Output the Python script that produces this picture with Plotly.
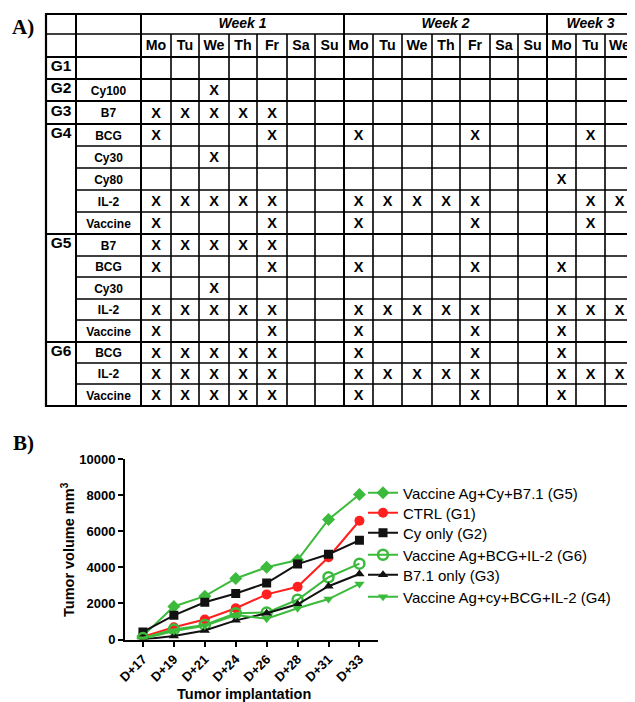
import plotly.graph_objects as go

# ---------------- Panel A data (treatment schedule) ----------------
group_names = ["G1", "G2", "G3", "G4", "G5", "G6"]
group_sizes = [1, 1, 1, 5, 5, 3]
treatments = ["", "Cy100", "B7", "BCG", "Cy30", "Cy80", "IL-2", "Vaccine",
              "B7", "BCG", "Cy30", "IL-2", "Vaccine",
              "BCG", "IL-2", "Vaccine"]
week_names = ["Week 1", "Week 2", "Week 3"]
week_days = [["Mo", "Tu", "We", "Th", "Fr", "Sa", "Su"],
             ["Mo", "Tu", "We", "Th", "Fr", "Sa", "Su"],
             ["Mo", "Tu", "We"]]
# day indices (0..16 across the three weeks) marked with an X, one list per row
schedule = [
    [],
    [2],
    [0, 1, 2, 3, 4],
    [0, 4, 7, 11, 15],
    [2],
    [14],
    [0, 1, 2, 3, 4, 7, 8, 9, 10, 11, 15, 16],
    [0, 4, 7, 11, 15],
    [0, 1, 2, 3, 4],
    [0, 4, 7, 11, 14],
    [2],
    [0, 1, 2, 3, 4, 7, 8, 9, 10, 11, 14, 15, 16],
    [0, 4, 7, 11, 14],
    [0, 1, 2, 3, 4, 7, 11, 14],
    [0, 1, 2, 3, 4, 7, 8, 9, 10, 11, 14, 15, 16],
    [0, 1, 2, 3, 4, 7, 11, 14],
]

# ---------------- Panel B data (tumor volume) ----------------
days = ["D+17", "D+19", "D+21", "D+24", "D+26", "D+28", "D+31", "D+33"]
series_names = ["Vaccine Ag+Cy+B7.1 (G5)", "CTRL (G1)", "Cy only (G2)",
                "Vaccine Ag+BCG+IL-2 (G6)", "B7.1 only (G3)", "Vaccine Ag+cy+BCG+IL-2 (G4)"]
g5_vals = [200, 1830, 2400, 3380, 4000, 4400, 6650, 8030]
ctrl_vals = [150, 680, 1110, 1730, 2500, 2920, 4560, 6580]
cy_vals = [420, 1340, 2060, 2550, 3130, 4180, 4720, 5500]
g6_vals = [80, 560, 810, 1460, 1490, 2200, 3450, 4200]
g3_vals = [0, 200, 500, 1060, 1450, 1950, 2950, 3630]
g4_vals = [40, 470, 760, 1350, 1150, 1730, 2240, 3080]
series_vals = [g5_vals, ctrl_vals, cy_vals, g6_vals, g3_vals, g4_vals]
y_tick_vals = [0, 2000, 4000, 6000, 8000, 10000]
y_tick_text = ["0", "2000", "4000", "6000", "8000", "10000"]

# ---------------- styling / layout constants ----------------
# the page body has an 8px margin, so the figure is sized/offset to fill the 635x702 window
OFF = 8
WIN_W, WIN_H = 635, 702
W, H = WIN_W - OFF, WIN_H - OFF

def px(X):  # window pixel -> paper x
    return (X - OFF) / W
def py(Y):  # window pixel -> paper y
    return 1 - (Y - OFF) / H

GREEN = "#3cba3c"
RED = "#ff1f1f"
BLACK = "#111111"
series_colors = [GREEN, RED, BLACK, GREEN, BLACK, GREEN]
series_symbols = ["diamond", "circle", "square", "circle-open", "triangle-up", "triangle-down"]
series_msize = [10, 10, 9, 10, 9, 9]
legend_y_px = [493, 513, 533, 555, 575, 597]

COL_EDGES = [46, 76, 141, 171, 199, 229, 257, 287, 315, 344, 373, 402, 432,
             460, 490, 518, 547, 576, 605, 634]
ROW_EDGES = [14, 34, 57, 79, 101, 124, 146, 168, 190, 212, 234, 256, 277,
             299, 320, 342, 363, 384, 406]
FONT = "Liberation Sans, Arial, sans-serif"

fig = go.Figure()

# ---------- table grid lines ----------
shapes = []
def hline(y, x0, x1, w):
    shapes.append(dict(type="line", xref="x2", yref="y2", x0=x0, x1=x1, y0=y, y1=y,
                       line=dict(color="black", width=w)))
def vline(x, y0, y1, w):
    shapes.append(dict(type="line", xref="x2", yref="y2", x0=x, x1=x, y0=y0, y1=y1,
                       line=dict(color="black", width=w)))

left, right = COL_EDGES[0], COL_EDGES[-1]
top, bottom = ROW_EDGES[0], ROW_EDGES[-1]
cum = []
s = 0
for g in group_sizes:
    s += g
    cum.append(s)
for k, y in enumerate(ROW_EDGES):
    if k in (0, len(ROW_EDGES) - 1):
        continue
    if k <= 2:
        hline(y, left, right, 1.6 if k == 1 else 2)
    else:
        r = k - 2  # number of data rows above
        if r in cum:
            hline(y, left, right, 2)
        else:
            hline(y, COL_EDGES[1], right, 1.6)
week_starts = {2, 9, 16}
for j, x in enumerate(COL_EDGES):
    if j in (0, len(COL_EDGES) - 1):
        continue
    if j in (1, 2) or j in week_starts:
        vline(x, top, bottom, 2)
    else:
        vline(x, ROW_EDGES[1], bottom, 1.6)
# outer border
shapes.append(dict(type="rect", xref="x2", yref="y2", x0=left, x1=right, y0=top, y1=bottom,
                   line=dict(color="black", width=2.2)))

def ccx(c):
    return (COL_EDGES[c] + COL_EDGES[c + 1]) / 2
def ccy(r):
    return (ROW_EDGES[r] + ROW_EDGES[r + 1]) / 2

def text_trace(x, y, t, size, style="normal"):
    return go.Scatter(x=x, y=y, text=t, mode="text", xaxis="x2", yaxis="y2",
                      textfont=dict(family=FONT, size=size, color="black", weight="bold", style=style),
                      showlegend=False, hoverinfo="skip", cliponaxis=False)

# week header
wx, wy, wt = [], [], []
d0 = 0
for name, dl in zip(week_names, week_days):
    wx.append((COL_EDGES[2 + d0] + COL_EDGES[2 + d0 + len(dl)]) / 2)
    wy.append(ccy(0) + 0.5)
    wt.append(name)
    d0 += len(dl)
fig.add_trace(text_trace(wx, wy, wt, 14, "italic"))
# day header
dx, dy, dt = [], [], []
c = 0
for dl in week_days:
    for d in dl:
        dx.append(ccx(2 + c))
        dy.append(ccy(1) + 0.5)
        dt.append(d)
        c += 1
fig.add_trace(text_trace(dx, dy, dt, 14.2))
# group labels
gx, gy, gt = [], [], []
r0 = 0
for name, size in zip(group_names, group_sizes):
    gx.append(ccx(0))
    gy.append(ccy(2 + r0) - 0.5)
    gt.append(name)
    r0 += size
fig.add_trace(text_trace(gx, gy, gt, 15.5))
# treatment labels
tx, ty, tt = [], [], []
for r, name in enumerate(treatments):
    if name:
        tx.append(ccx(1))
        ty.append(ccy(2 + r) + 1.5)
        tt.append(name)
fig.add_trace(text_trace(tx, ty, tt, 12))
# X marks
xx, xy, xt = [], [], []
for r, dlist in enumerate(schedule):
    for d in dlist:
        xx.append(ccx(2 + d))
        xy.append(ccy(2 + r) + 1.5)
        xt.append("X")
fig.add_trace(text_trace(xx, xy, xt, 14.5))

# ---------- Panel B lines ----------
legend_keys = ["legend", "legend2", "legend3", "legend4", "legend5", "legend6"]
for i, (name, vals) in enumerate(zip(series_names, series_vals)):
    marker = dict(symbol=series_symbols[i], size=series_msize[i], color=series_colors[i])
    if series_symbols[i] == "circle-open":
        marker["line"] = dict(width=2.5, color=series_colors[i])
    fig.add_trace(go.Scatter(x=days, y=vals, name=name, mode="lines+markers",
                             line=dict(color=series_colors[i], width=2),
                             marker=marker, xaxis="x", yaxis="y",
                             legend=legend_keys[i]))

layout_legends = {}
for i, key in enumerate(legend_keys):
    layout_legends[key] = dict(x=px(363), xanchor="left", y=py(legend_y_px[i]), yanchor="middle",
                               bgcolor="rgba(0,0,0,0)", borderwidth=0,
                               font=dict(family=FONT, size=15, color="black"),
                               tracegroupgap=0)

axis_font = dict(family=FONT, size=13, color="black", weight="bold")
serif = dict(family="Liberation Serif, Times New Roman, serif", size=21, color="black")
fig.update_layout(
    width=W, height=H,
    margin=dict(l=0, r=0, t=0, b=0, autoexpand=False),
    paper_bgcolor="white", plot_bgcolor="rgba(0,0,0,0)",
    shapes=shapes,
    xaxis=dict(domain=[px(125), px(378)], type="category", range=[-0.58, 7.6],
               showline=True, linecolor="black", linewidth=2, ticks="outside",
               ticklen=5, tickwidth=2, tickcolor="black", tickangle=-45,
               tickfont=axis_font, showgrid=False, zeroline=False, anchor="y",
               fixedrange=True, automargin=False),
    yaxis=dict(domain=[py(639.5), py(459)], range=[0, 10000],
               tickvals=y_tick_vals, ticktext=y_tick_text,
               showline=True, linecolor="black", linewidth=2, ticks="outside",
               ticklen=5, tickwidth=2, tickcolor="black", tickfont=axis_font,
               showgrid=False, zeroline=False, anchor="x", fixedrange=True, automargin=False),
    xaxis2=dict(domain=[0, 1], range=[OFF, WIN_W], visible=False, anchor="y2", fixedrange=True,
                automargin=False),
    yaxis2=dict(domain=[0, 1], range=[WIN_H, OFF], visible=False, anchor="x2", fixedrange=True,
                automargin=False),
    annotations=[
        dict(text="<b>A)</b>", x=px(23), y=py(27), xref="paper", yref="paper",
             xanchor="center", yanchor="middle", showarrow=False, font=serif),
        dict(text="<b>B)</b>", x=px(23), y=py(443), xref="paper", yref="paper",
             xanchor="center", yanchor="middle", showarrow=False, font=serif),
        dict(text="<b>Tumor implantation</b>", x=px(244), y=py(694), xref="paper", yref="paper",
             xanchor="center", yanchor="middle",
             showarrow=False, font=dict(family=FONT, size=14.5, color="black")),
        dict(text="<b>Tumor volume mm<sup>3</sup></b>", x=px(68), y=py(550), xref="paper", yref="paper",
             xanchor="center", yanchor="middle",
             textangle=-90, showarrow=False, font=dict(family=FONT, size=14.5, color="black")),
    ],
    **layout_legends,
)

fig.write_html("out.html")
